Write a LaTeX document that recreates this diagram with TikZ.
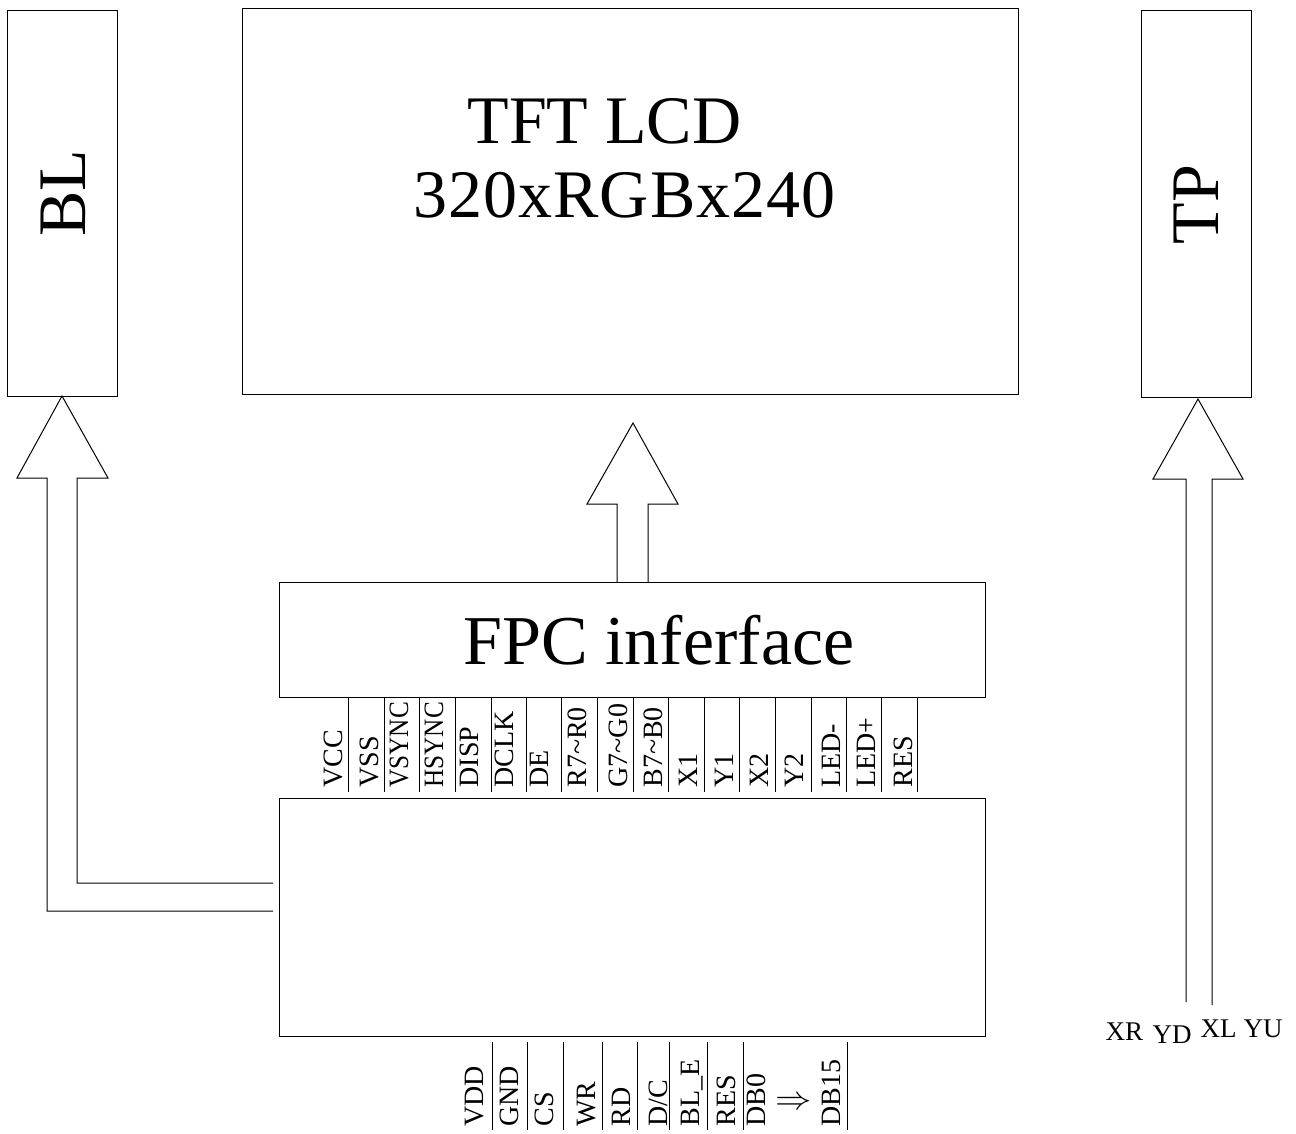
\documentclass[tikz,border=0pt]{standalone}
\usepackage{fontspec}
\setmainfont{Liberation Serif}
\usepackage{graphicx}
\begin{document}
\begin{tikzpicture}[x=1pt,y=-1pt,line width=1pt,
  box/.style={draw,line width=1pt,inner sep=0pt,outer sep=0pt,anchor=north west},
  big/.style={font=\fontsize{68}{70}\selectfont,inner sep=0pt,anchor=base west},
  pin/.style={font=\fontsize{28}{30}\selectfont,inner sep=0pt,rotate=90,anchor=base west},
  tlab/.style={font=\fontsize{27}{29}\selectfont,inner sep=0pt,anchor=base west},
  sepline/.style={line width=1pt},
  hollow/.style={line width=1pt,line join=miter}]
\useasboundingbox (0,0) rectangle (1296,1133);
% boxes
\node[box,minimum width=110pt,minimum height=386pt] (bl) at (7,10) {};
\node[box,minimum width=776pt,minimum height=386pt] (lcd) at (242,8) {};
\node[box,minimum width=110pt,minimum height=387pt] (tp) at (1141,10) {};
\node[box,minimum width=706pt,minimum height=115pt] (fpc) at (279,582) {};
\node[box,minimum width=706pt,minimum height=238pt] (mcu) at (279,798) {};
% big texts
\node[big] (t1) at (467,143) {TFT LCD};
\node[big] (t2) at (413,217) {\addfontfeatures{LetterSpace=1.5}320xRGBx240};
\node[big,font=\fontsize{70}{72}\selectfont] (tf) at (463,664) {FPC inferface};
\node[big,rotate=90] (tbl) at (85,237) {BL};
\node[big,rotate=90] (ttp) at (1218,245) {TP};
% BL arrow
\coordinate (blA) at (273,911);
\coordinate (blB) at (273,883);
\draw[hollow] (blA) -- (47,911) -- (47,478) -- (17,478) -- (bl.south) -- (108,478) -- (77,478) -- (77,883) -- (blB);
% LCD arrow
\coordinate (lcdtip) at (633,423);
\draw[hollow] ([xshift=-15pt]fpc.north) -- (617,504) -- (587,504) -- (lcdtip) -- (678,504) -- (648,504) -- ([xshift=16pt]fpc.north);
% TP arrow
\coordinate (tptip) at (1198,399);
\coordinate (tpA) at (1186,1002);
\coordinate (tpB) at (1212,1005);
\draw[hollow] (tpA) -- (1186,479) -- (1153,479) -- (tptip) -- (1243,479) -- (1212,479) -- (tpB);
% pin separators
\foreach \x in {348,384,419,455,491,526,561,597,633,668,704,739,775,811,846,881,917}
  \draw[sepline] (\x,698) -- (\x,792);
\foreach \x in {492,527,563,602,637,669,707,743,847}
  \draw[sepline] (\x,1042) -- (\x,1130);
% top pin labels
\node[pin] (pa1) at (342,788) {VCC};
\node[pin] (pa2) at (378,788) {VSS};
\node[pin] (pa3) at (408,788) {\scalebox{0.9}[1]{VSYNC}};
\node[pin] (pa4) at (443,788) {\scalebox{0.9}[1]{HSYNC}};
\node[pin] (pa5) at (478,788) {DISP};
\node[pin] (pa6) at (513,788) {DCLK};
\node[pin] (pa7) at (548,788) {DE};
\node[pin] (pa8) at (586,788) {R7\textasciitilde R0};
\node[pin] (pa9) at (627,788) {G7\textasciitilde G0};
\node[pin] (pa10) at (662,788) {B7\textasciitilde B0};
\node[pin] (pa11) at (697,788) {X1};
\node[pin] (pa12) at (733,788) {Y1};
\node[pin] (pa13) at (768,788) {X2};
\node[pin] (pa14) at (803,788) {Y2};
\node[pin] (pa15) at (840,788) {LED-};
\node[pin] (pa16) at (875,788) {LED+};
\node[pin] (pa17) at (912,788) {RES};
% bottom pin labels
\node[pin] (pb1) at (483,1127) {VDD};
\node[pin] (pb2) at (518,1127) {GND};
\node[pin] (pb3) at (553,1127) {CS};
\node[pin] (pb4) at (595,1127) {WR};
\node[pin] (pb5) at (630,1127) {RD};
\node[pin] (pb6) at (667,1127) {D/C};
\node[pin] (pb7) at (699,1127) {BL\_E};
\node[pin] (pb8) at (735,1127) {RES};
\node[pin] (pb9) at (765,1127) {DB0};
\node[font=\fontsize{20}{20}\selectfont,inner sep=0pt] (pbarr) at (794,1103) {\scalebox{1.75}[1.6]{$\Rightarrow$}};
\node[pin] (pb10) at (840,1127) {DB15};
% touch panel labels
\node[tlab] (xr) at (1105,1040) {XR};
\node[tlab] (yd) at (1152,1043) {YD};
\node[tlab] (xl) at (1200,1037) {XL};
\node[tlab] (yu) at (1243,1037) {YU};
\end{tikzpicture}
\end{document}
